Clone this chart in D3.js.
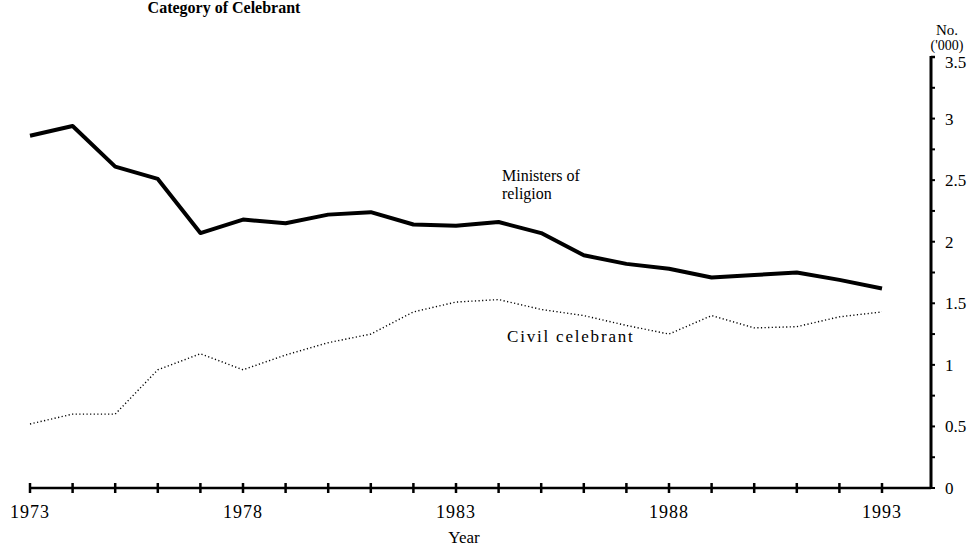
<!DOCTYPE html>
<html>
<head>
<meta charset="utf-8">
<script src="https://cdn.jsdelivr.net/npm/d3@7"></script>
<style>
  body { margin: 0; background: #fff; }
  text { font-family: "Liberation Serif", "DejaVu Serif", serif; fill: #000; }
</style>
</head>
<body>
<script>
const years = d3.range(1973, 1994);
const ministers = [2.86, 2.94, 2.61, 2.51, 2.07, 2.18, 2.15, 2.22, 2.24, 2.14, 2.13,
  2.16, 2.07, 1.89, 1.82, 1.78, 1.71, 1.73, 1.75, 1.69, 1.62];
const civil = [0.52, 0.60, 0.60, 0.96, 1.09, 0.96, 1.08, 1.18, 1.25, 1.43, 1.51,
  1.53, 1.45, 1.40, 1.32, 1.25, 1.40, 1.30, 1.31, 1.39, 1.43];
const yearLabels = [1973, 1978, 1983, 1988, 1993];
const valueTicks = [0, 0.5, 1, 1.5, 2, 2.5, 3, 3.5];

const width = 978, height = 547;

const svg = d3.select("body")
  .append("svg")
  .attr("width", width)
  .attr("height", height);

const x = d3.scaleLinear().domain([1973, 1993]).range([30, 882]);
const y = d3.scaleLinear().domain([0, 3.5]).range([488, 57]);
const xEnd = 931;

// title (sits right at the top edge, as in the original)
svg.append("text")
  .attr("x", 224)
  .attr("y", 13)
  .attr("text-anchor", "middle")
  .attr("font-size", 16)
  .attr("font-weight", "bold")
  .text("Category of Celebrant");

// x axis
const xAxis = svg.append("g");
xAxis.append("line")
  .attr("x1", x(1973)).attr("x2", xEnd)
  .attr("y1", y(0)).attr("y2", y(0))
  .attr("stroke", "#000").attr("stroke-width", 2.5);
xAxis.selectAll(".xtick")
  .data(years)
  .enter()
  .append("line")
  .attr("class", "xtick")
  .attr("x1", (d) => x(d)).attr("x2", (d) => x(d))
  .attr("y1", y(0) - 5).attr("y2", y(0) + 5)
  .attr("stroke", "#000").attr("stroke-width", 2.5);
xAxis.selectAll(".xlabel")
  .data(yearLabels)
  .enter()
  .append("text")
  .attr("class", "xlabel")
  .attr("x", (d) => x(d))
  .attr("y", y(0) + 30)
  .attr("text-anchor", "middle")
  .attr("font-size", 18)
  .attr("letter-spacing", 1)
  .text((d) => d);
svg.append("text")
  .attr("x", 464)
  .attr("y", 543)
  .attr("text-anchor", "middle")
  .attr("font-size", 17)
  .text("Year");

// y axis on the right
const yAxis = svg.append("g");
yAxis.append("line")
  .attr("x1", xEnd).attr("x2", xEnd)
  .attr("y1", y(3.5) - 1).attr("y2", y(0) + 1)
  .attr("stroke", "#000").attr("stroke-width", 3);
yAxis.append("line")
  .attr("x1", xEnd).attr("x2", xEnd + 4)
  .attr("y1", y(3.5)).attr("y2", y(3.5))
  .attr("stroke", "#000").attr("stroke-width", 2.5);
yAxis.selectAll(".ytick")
  .data(d3.range(0, 3.5, 0.25))
  .enter()
  .append("line")
  .attr("class", "ytick")
  .attr("x1", xEnd).attr("x2", xEnd + 4)
  .attr("y1", (d) => y(d)).attr("y2", (d) => y(d))
  .attr("stroke", "#000").attr("stroke-width", 2);
yAxis.selectAll(".ylabel")
  .data(valueTicks)
  .enter()
  .append("text")
  .attr("class", "ylabel")
  .attr("x", 945)
  .attr("y", (d) => y(d) + (d === 3.5 ? 11 : 6))
  .attr("font-size", 17)
  .text((d) => d);
svg.append("text")
  .attr("x", 947).attr("y", 35)
  .attr("text-anchor", "middle")
  .attr("font-size", 15)
  .text("No.");
svg.append("text")
  .attr("x", 947).attr("y", 50)
  .attr("text-anchor", "middle")
  .attr("font-size", 14)
  .text("('000)");

// lines
const line = d3.line()
  .x((d, i) => x(years[i]))
  .y((d) => y(d));

svg.append("path")
  .datum(civil)
  .attr("fill", "none")
  .attr("stroke", "#000")
  .attr("stroke-width", 1.4)
  .attr("stroke-dasharray", "1.2,2.4")
  .attr("d", line);

svg.append("path")
  .datum(ministers)
  .attr("fill", "none")
  .attr("stroke", "#000")
  .attr("stroke-width", 4)
  .attr("stroke-linejoin", "round")
  .attr("d", line);

// series labels
const lab = svg.append("g").attr("font-size", 16);
lab.append("text").attr("x", 502).attr("y", 181).text("Ministers of");
lab.append("text").attr("x", 502).attr("y", 199).text("religion");
lab.append("text").attr("x", 507).attr("y", 342)
  .attr("font-size", 17).attr("letter-spacing", 1.8)
  .text("Civil celebrant");
</script>
</body>
</html>
